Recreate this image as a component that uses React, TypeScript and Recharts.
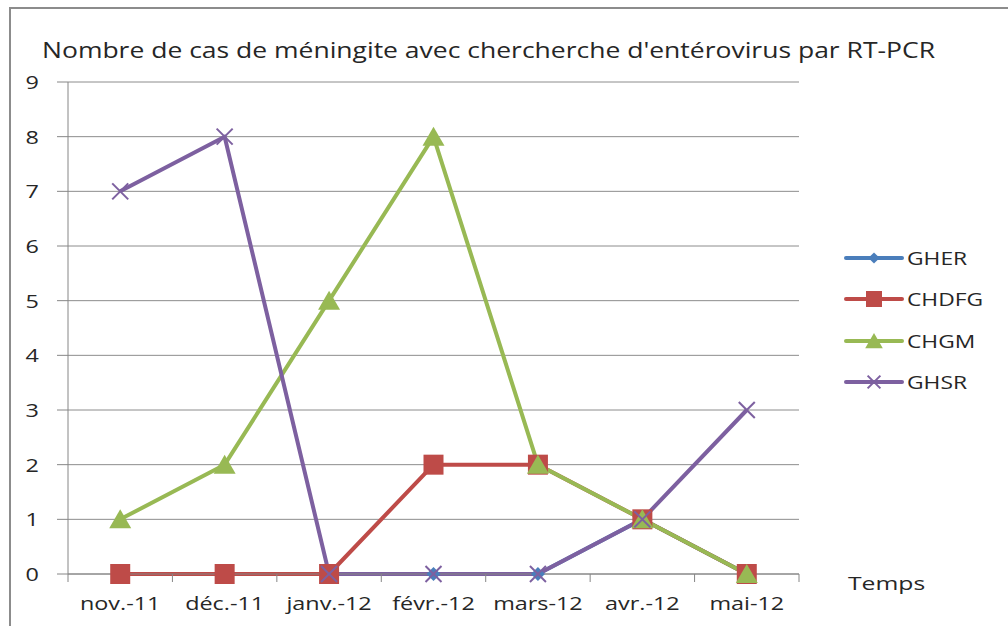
import { LineChart, Line, XAxis, YAxis, CartesianGrid, Legend } from "recharts";

// data
const months = ["nov.-11", "déc.-11", "janv.-12", "févr.-12", "mars-12", "avr.-12", "mai-12"];
const gher = [0, 0, 0, 0, 0, 1, 0];
const chdfg = [0, 0, 0, 2, 2, 1, 0];
const chgm = [1, 2, 5, 8, 2, 1, 0];
const ghsr = [7, 8, 0, 0, 0, 1, 3];
const yTicks = [0, 1, 2, 3, 4, 5, 6, 7, 8, 9];

const SERIES = [
  { key: "GHER", color: "#4a7ebb", values: gher, marker: "diamond" },
  { key: "CHDFG", color: "#be4b48", values: chdfg, marker: "square" },
  { key: "CHGM", color: "#98b954", values: chgm, marker: "triangle" },
  { key: "GHSR", color: "#7d60a0", values: ghsr, marker: "x" },
];

const data = months.map((m, i) => {
  const row: Record<string, string | number> = { month: m };
  SERIES.forEach((s) => (row[s.key] = s.values[i]));
  return row;
});

const W = 1008;
const H = 626;
const PLOT_LEFT = 68;
const PLOT_RIGHT = 799;
const PLOT_TOP = 82;
const PLOT_BOTTOM = 574;
const X_AXIS_H = 30;
const BAND = (PLOT_RIGHT - PLOT_LEFT) / months.length;

const FONT = '"Open Sans", "DejaVu Sans", sans-serif';
const GRAY = "#868686";
const TEXT = "#262626";
const STRETCH = 1.3;

function Marker({ type, cx, cy, color, s = 1 }: { type: string; cx: number; cy: number; color: string; s?: number }) {
  if (type === "diamond") {
    const r = 7 * s;
    return <polygon points={`${cx},${cy - r} ${cx + r},${cy} ${cx},${cy + r} ${cx - r},${cy}`} fill={color} />;
  }
  if (type === "square") {
    const r = 10 * s;
    return <rect x={cx - r} y={cy - r} width={2 * r} height={2 * r} fill={color} />;
  }
  if (type === "triangle") {
    return (
      <polygon
        points={`${cx},${cy - 10 * s} ${cx + 11 * s},${cy + 9 * s} ${cx - 11 * s},${cy + 9 * s}`}
        fill={color}
      />
    );
  }
  const r = 8 * s;
  return (
    <g stroke={color} strokeWidth={2}>
      <line x1={cx - r} y1={cy - r} x2={cx + r} y2={cy + r} />
      <line x1={cx - r} y1={cy + r} x2={cx + r} y2={cy - r} />
    </g>
  );
}

function MonthTick(props: any) {
  const { x, y, payload, index } = props;
  const last = index === months.length - 1;
  return (
    <g>
      <line x1={x - BAND / 2} y1={y} x2={x - BAND / 2} y2={y + 8} stroke={GRAY} />
      {last && <line x1={x + BAND / 2} y1={y} x2={x + BAND / 2} y2={y + 8} stroke={GRAY} />}
      <text
        transform={`translate(${x},${y + 36}) scale(${STRETCH},1)`}
        textAnchor="middle"
        fontFamily={FONT}
        fontSize={18}
        fill={TEXT}
      >
        {payload.value}
      </text>
    </g>
  );
}

function ValueTick(props: any) {
  const { x, y, payload } = props;
  return (
    <text
      transform={`translate(${x},${y + 7}) scale(${STRETCH},1)`}
      textAnchor="end"
      fontFamily={FONT}
      fontSize={18}
      fill={TEXT}
    >
      {payload.value}
    </text>
  );
}

function LegendBox() {
  return (
    <div style={{ fontFamily: FONT, fontSize: 19, color: TEXT }}>
      {SERIES.map((s) => (
        <div key={s.key} style={{ display: "flex", alignItems: "center", height: 41.5 }}>
          <svg width={62} height={24} style={{ display: "block" }}>
            <line x1={3} y1={12} x2={59} y2={12} stroke={s.color} strokeWidth={4} strokeLinecap="round" />
            <Marker type={s.marker} cx={31} cy={12} color={s.color} s={0.8} />
          </svg>
          <span
            style={{
              marginLeft: 2,
              display: "inline-block",
              transform: "scaleX(1.2)",
              transformOrigin: "left center",
            }}
          >
            {s.key}
          </span>
        </div>
      ))}
    </div>
  );
}

export default function App() {
  return (
    <div style={{ position: "absolute", left: 0, top: 0, width: W, height: H, background: "#fff", overflow: "hidden" }}>
      <LineChart
        width={W}
        height={H}
        data={data}
        margin={{ top: PLOT_TOP, right: W - PLOT_RIGHT, bottom: H - PLOT_BOTTOM - X_AXIS_H, left: 0 }}
      >
        <CartesianGrid vertical={false} stroke="#8c8c8c" />
        <XAxis
          dataKey="month"
          scale="band"
          height={X_AXIS_H}
          interval={0}
          tickLine={false}
          tickSize={0}
          tickMargin={0}
          axisLine={{ stroke: GRAY }}
          tick={<MonthTick />}
        />
        <YAxis
          width={PLOT_LEFT}
          domain={[0, 9]}
          ticks={yTicks}
          interval={0}
          tickSize={11}
          tickMargin={18}
          tickLine={{ stroke: GRAY }}
          axisLine={{ stroke: GRAY }}
          tick={<ValueTick />}
        />
        <Legend
          layout="vertical"
          align="center"
          verticalAlign="middle"
          wrapperStyle={{ left: 843, top: 237, width: 165 }}
          content={() => <LegendBox />}
        />
        {SERIES.map((s) => (
          <Line
            key={s.key}
            dataKey={s.key}
            stroke={s.color}
            strokeWidth={4}
            strokeLinejoin="round"
            isAnimationActive={false}
            activeDot={false}
            dot={(p: any) => (
              <Marker key={`${s.key}-${p.index}`} type={s.marker} cx={p.cx} cy={p.cy} color={s.color} />
            )}
          />
        ))}
      </LineChart>
      <svg width={W} height={H} style={{ position: "absolute", left: 0, top: 0, pointerEvents: "none" }}>
        <rect x={10} y={8} width={W} height={H} fill="none" stroke="#8c8c8c" strokeWidth={2} />
        <text x={42} y={58} fontFamily={FONT} fontSize={21} fill={TEXT} textLength={893} lengthAdjust="spacingAndGlyphs">
          Nombre de cas de méningite avec chercherche d'entérovirus par RT-PCR
        </text>
        <text
          transform={`translate(848,590) scale(${STRETCH},1)`}
          fontFamily={FONT}
          fontSize={19}
          fill={TEXT}
        >
          Temps
        </text>
      </svg>
    </div>
  );
}
